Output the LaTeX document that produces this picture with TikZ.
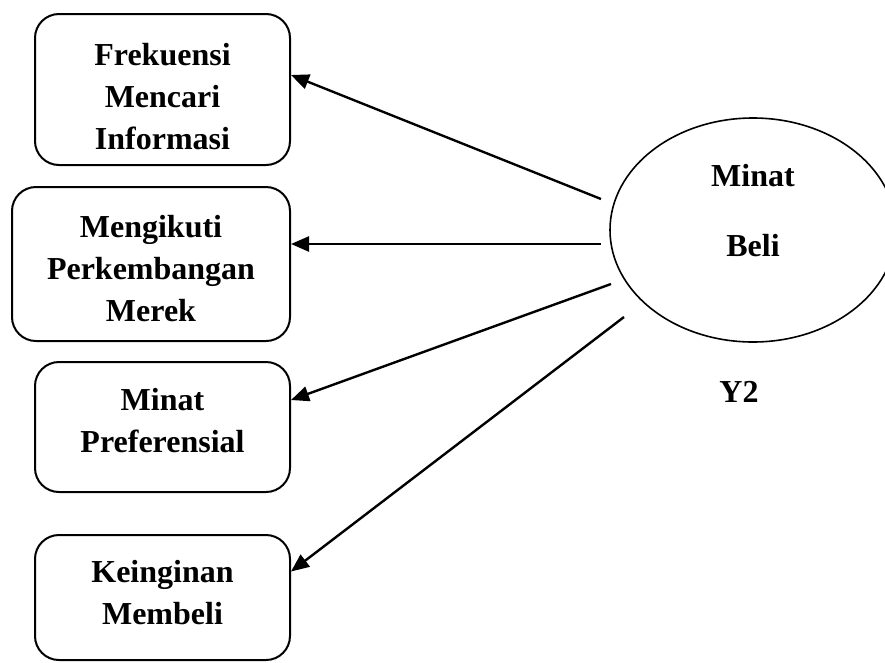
\documentclass[tikz,border=0pt]{standalone}
\usepackage{fontspec}
\setmainfont{Liberation Serif}
\usetikzlibrary{shapes.geometric,arrows.meta}
\begin{document}
\begin{tikzpicture}[x=1pt,y=-1pt,
  indbox/.style={draw,line width=2pt,rounded corners=24pt,inner sep=0pt},
  lbl/.style={font=\fontsize{32}{42}\selectfont\bfseries,align=center,inner sep=0pt},
  arr/.style={line width=2.4pt,-{Triangle[length=18pt,width=15pt]}}]
\useasboundingbox (0,0) rectangle (885,662);
% indicator boxes
\node[indbox,minimum width=255,minimum height=151] (b1) at (162.5,89.5) {};
\node[indbox,minimum width=278,minimum height=154] (b2) at (151,264) {};
\node[indbox,minimum width=255,minimum height=130] (b3) at (162.5,427) {};
\node[indbox,minimum width=255,minimum height=125] (b4) at (162.5,597.5) {};
\node[lbl] (t1) at (162.5,97) {Frekuensi\\Mencari\\Informasi};
\node[lbl] (t2) at (151,269) {Mengikuti\\Perkembangan\\Merek};
\node[lbl] (t3) at (162.5,421) {Minat\\Preferensial};
\node[lbl] (t4) at (162.5,593) {Keinginan\\Membeli};
% latent variable
\node[draw,ellipse,line width=1.6pt,minimum width=286,minimum height=224,inner sep=0pt] (lv) at (753,230) {};
\node[lbl] (m1) at (753,176) {Minat};
\node[lbl] (m2) at (753,246) {Beli};
\node[lbl] (y2) at (739,392) {Y2};
% loadings
\coordinate (s1) at (601,199);
\coordinate (s2) at (601,244);
\coordinate (s3) at (611,284);
\coordinate (s4) at (624,317);
\draw[arr] (s1) -- ([yshift=14.5pt]b1.east);
\draw[arr] (s2) -- ([yshift=20pt]b2.east);
\draw[arr] (s3) -- ([yshift=27pt]b3.east);
\draw[arr] (s4) -- ([yshift=26pt]b4.east);
\end{tikzpicture}
\end{document}
